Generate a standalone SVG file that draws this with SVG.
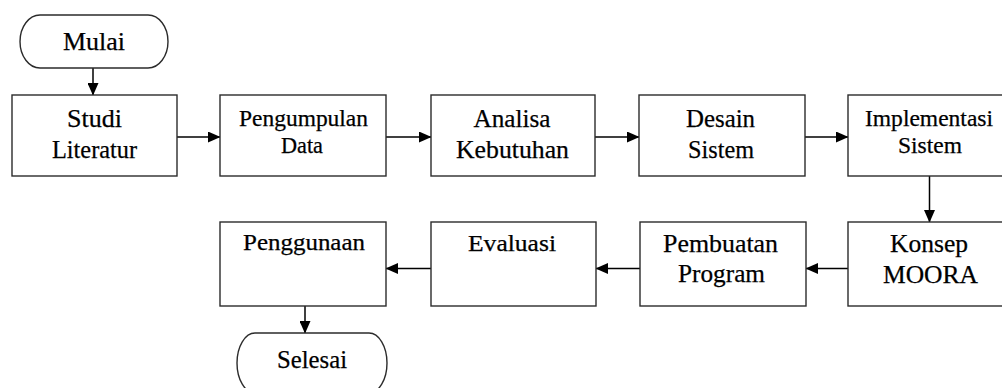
<svg xmlns="http://www.w3.org/2000/svg" width="1002" height="388" viewBox="0 0 1002 388">
<style>
.box{fill:#fff;stroke:#2b2b2b;stroke-width:1.4}
.t{font-family:"Liberation Serif","Times New Roman",serif;fill:#000;stroke:#000;stroke-width:0.25;text-anchor:middle}
.l{font-size:25.5px}
.s{font-size:23px}
.c{stroke:#000;stroke-width:1.5;fill:none;marker-end:url(#ah)}
</style>
<defs>
<marker id="ah" markerUnits="userSpaceOnUse" markerWidth="13" markerHeight="11" refX="12" refY="5.5" orient="auto">
<path d="M0,0 L12.5,5.5 L0,11 z" fill="#000"/>
</marker>
</defs>
<rect width="1002" height="388" fill="#fff"/>
<g id="connectors">
<line class="c" x1="93" y1="68" x2="93" y2="95"/>
<line class="c" x1="177" y1="137" x2="220" y2="137"/>
<line class="c" x1="386" y1="137" x2="431" y2="137"/>
<line class="c" x1="595" y1="137" x2="639" y2="137"/>
<line class="c" x1="805" y1="137" x2="848" y2="137"/>
<line class="c" x1="929.5" y1="176" x2="929.5" y2="222"/>
<line class="c" x1="848" y1="268.5" x2="806" y2="268.5"/>
<line class="c" x1="640" y1="268.5" x2="596" y2="268.5"/>
<line class="c" x1="431" y1="268.5" x2="386" y2="268.5"/>
<line class="c" x1="305" y1="306" x2="305" y2="333"/>
</g>
<g id="mulai">
<rect class="box" x="20" y="15" width="148" height="53" rx="20" ry="26.5"/>
<text class="t" x="94" y="50" style="font-size:26px" textLength="62" lengthAdjust="spacingAndGlyphs">Mulai</text>
</g>
<g id="studi">
<rect class="box" x="12" y="95" width="165" height="81"/>
<text class="t l" x="94.5" y="127" textLength="55" lengthAdjust="spacingAndGlyphs">Studi</text>
<text class="t l" x="94.5" y="158" textLength="85" lengthAdjust="spacingAndGlyphs">Literatur</text>
</g>
<g id="pengumpulan">
<rect class="box" x="220" y="95" width="166" height="81"/>
<text class="t s" x="303.5" y="126" textLength="129" lengthAdjust="spacingAndGlyphs">Pengumpulan</text>
<text class="t s" x="302" y="153" textLength="42" lengthAdjust="spacingAndGlyphs">Data</text>
</g>
<g id="analisa">
<rect class="box" x="431" y="95" width="164" height="81"/>
<text class="t l" x="512" y="127" textLength="77" lengthAdjust="spacingAndGlyphs">Analisa</text>
<text class="t l" x="512.5" y="158" textLength="113" lengthAdjust="spacingAndGlyphs">Kebutuhan</text>
</g>
<g id="desain">
<rect class="box" x="639" y="95" width="166" height="81"/>
<text class="t l" x="720.5" y="127" textLength="69" lengthAdjust="spacingAndGlyphs">Desain</text>
<text class="t l" x="721" y="158" textLength="66" lengthAdjust="spacingAndGlyphs">Sistem</text>
</g>
<g id="implementasi">
<rect class="box" x="848" y="95" width="165" height="81"/>
<text class="t s" x="929" y="126" textLength="128" lengthAdjust="spacingAndGlyphs">Implementasi</text>
<text class="t s" x="930" y="153" textLength="64" lengthAdjust="spacingAndGlyphs">Sistem</text>
</g>
<g id="konsep">
<rect class="box" x="848" y="222" width="165" height="84"/>
<text class="t l" x="929" y="252" textLength="78" lengthAdjust="spacingAndGlyphs">Konsep</text>
<text class="t l" x="930.5" y="283" textLength="95" lengthAdjust="spacingAndGlyphs">MOORA</text>
</g>
<g id="pembuatan">
<rect class="box" x="640" y="222" width="166" height="84"/>
<text class="t l" x="720.5" y="252" textLength="115" lengthAdjust="spacingAndGlyphs">Pembuatan</text>
<text class="t l" x="721.5" y="282" textLength="87" lengthAdjust="spacingAndGlyphs">Program</text>
</g>
<g id="evaluasi">
<rect class="box" x="431" y="222" width="165" height="84"/>
<text class="t s" x="512" y="251" textLength="88" lengthAdjust="spacingAndGlyphs">Evaluasi</text>
</g>
<g id="penggunaan">
<rect class="box" x="220" y="222" width="166" height="84"/>
<text class="t s" x="304" y="250" textLength="122" lengthAdjust="spacingAndGlyphs">Penggunaan</text>
</g>
<g id="selesai">
<rect class="box" x="237" y="333" width="150" height="60" rx="18" ry="30"/>
<text class="t l" x="312" y="368" textLength="70" lengthAdjust="spacingAndGlyphs">Selesai</text>
</g>
</svg>
